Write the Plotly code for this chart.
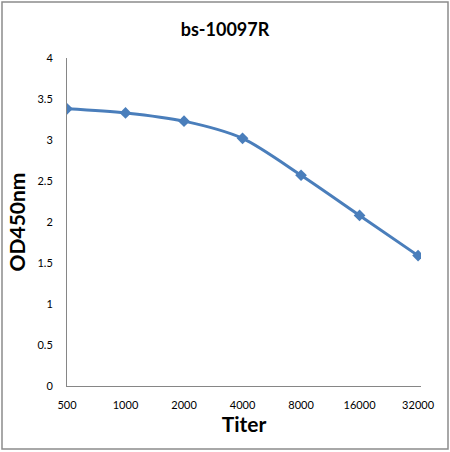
import plotly.graph_objs as go

# разведения и оптическая плотность
titers = ['500', '1000', '2000', '4000', '8000', '16000', '32000']
od450 = [3.38, 3.33, 3.23, 3.02, 2.57, 2.08, 1.59]
y_ticks = [0, 0.5, 1, 1.5, 2, 2.5, 3, 3.5, 4]

fig = go.Figure()
fig.add_trace(go.Scatter(x=titers, y=od450, mode='lines+markers',
                         line=dict(color='#4A7EBB', width=3, shape='spline', smoothing=0.8),
                         marker=dict(symbol='diamond', size=9, color='#4A7EBB')))

fig.update_layout(width=450, height=452, autosize=False,
                  paper_bgcolor='white', plot_bgcolor='white',
                  margin=dict(l=67, r=29, t=58, b=66),
                  showlegend=False,
                  font=dict(family='Lato, DejaVu Sans', color='#000000'),
                  title=dict(text='<b>bs-10097R</b>', x=0.5, xanchor='center',
                             y=0.935, yanchor='middle', font=dict(size=18)))

fig.update_xaxes(type='category', range=[0, 6.05], showgrid=False, automargin=False,
                 showline=True, linecolor='#868686', linewidth=1,
                 ticks='', tickfont=dict(size=11), ticklabelstandoff=9,
                 title=dict(text='<b>Titer</b>', font=dict(size=21), standoff=6))
fig.update_yaxes(range=[0, 4], tickvals=y_ticks, ticktext=[str(v) for v in y_ticks],
                 showgrid=False, zeroline=False, automargin=False,
                 showline=True, linecolor='#868686', linewidth=1,
                 ticks='', tickfont=dict(size=11), ticklabelstandoff=11,
                 title=dict(text='<b>OD450nm</b>', font=dict(size=21), standoff=6))

# серая рамка вокруг всей картинки, как в Excel
fig.add_shape(type='rect', xref='paper', yref='paper',
              x0=-65/354, x1=1 + 27/354, y0=-63/328, y1=1 + 56/328,
              line=dict(color='#8c8c8c', width=1.5), fillcolor='rgba(0,0,0,0)')

# убрать стандартный отступ body, чтобы график стоял ровно в углу окна
fig.write_html("out.html", config={'displayModeBar': False},
               post_script="document.body.style.margin='0';")
